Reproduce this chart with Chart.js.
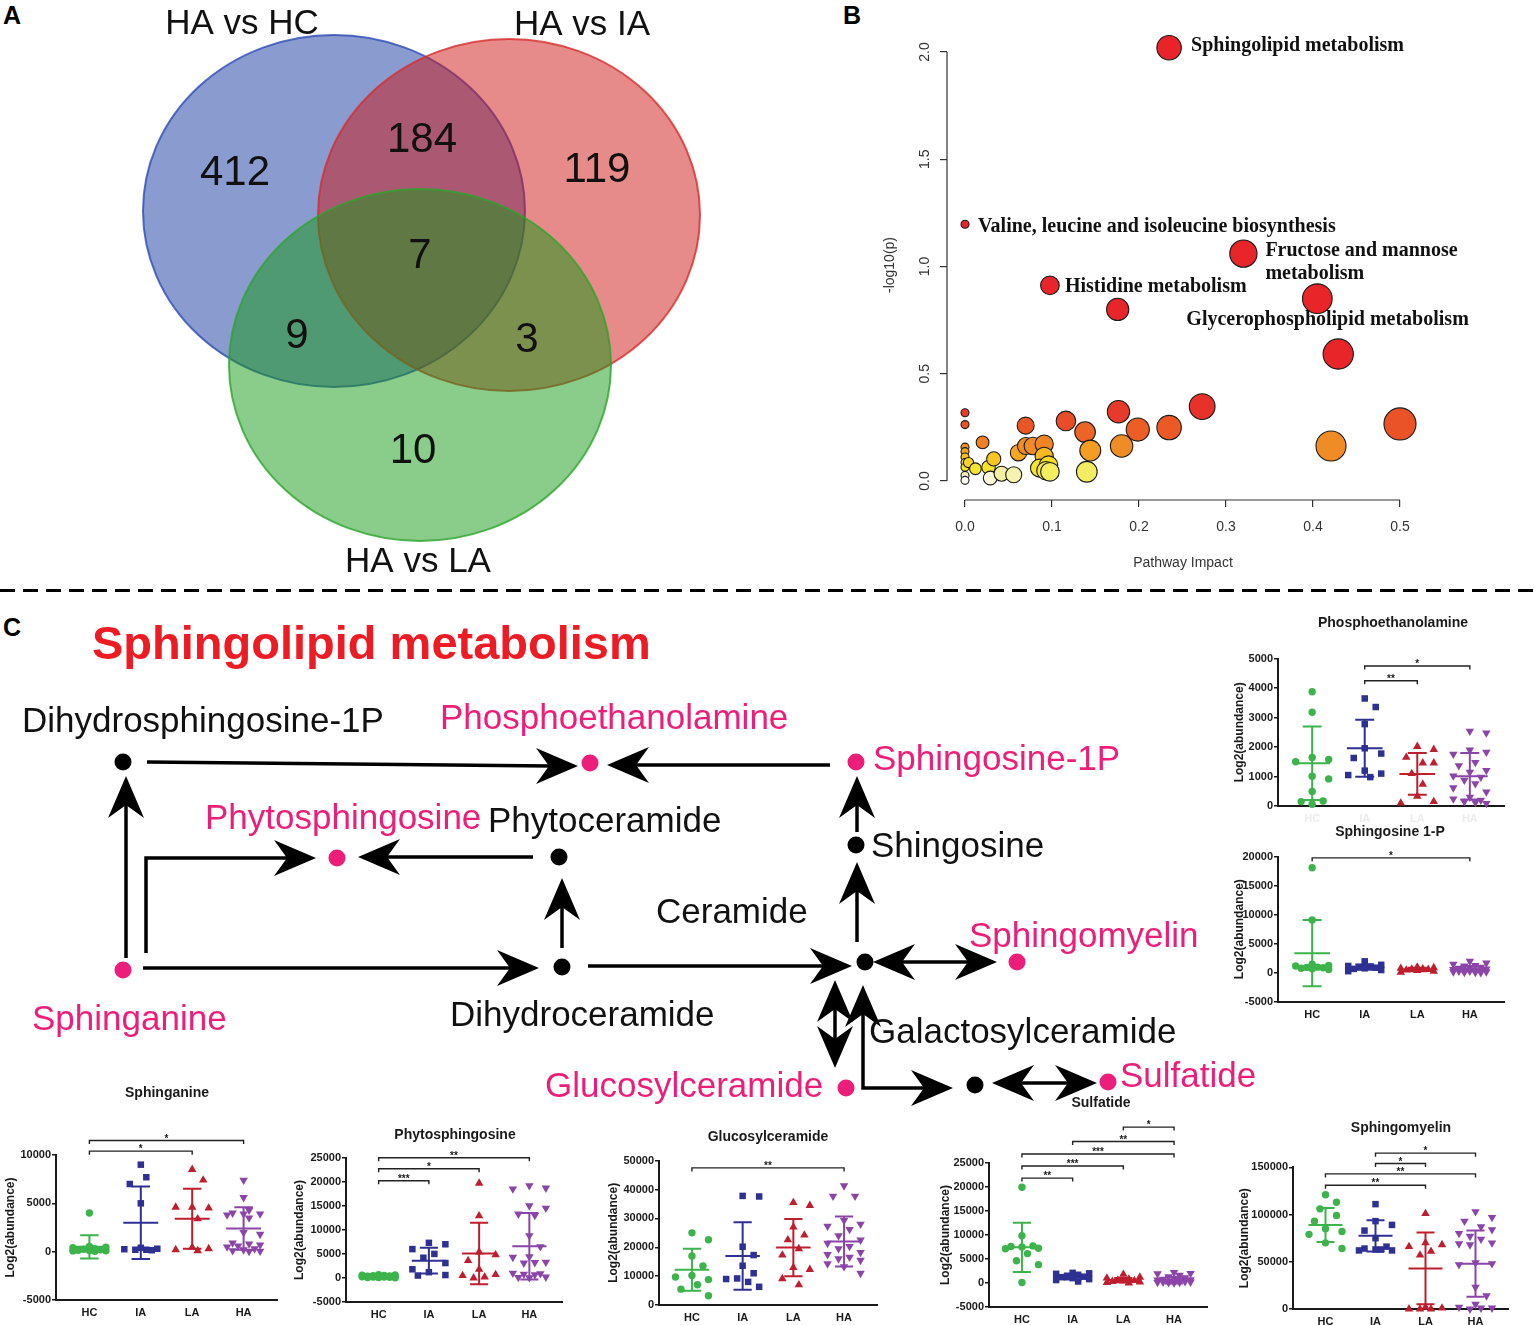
<!DOCTYPE html>
<html>
<head>
<meta charset="utf-8">
<title>Sphingolipid metabolism figure</title>
<script src="https://cdn.jsdelivr.net/npm/chart.js@4.4.1/dist/chart.umd.min.js"></script>
<style>
  html, body { margin:0; padding:0; background:#fff; }
  body { position:relative; width:1535px; height:1325px; overflow:hidden; font-family:"Liberation Sans", Arial, sans-serif; }
  canvas { position:absolute; }
  .panel { position:absolute; font:bold 25px "Liberation Sans", Arial, sans-serif; line-height:25px; color:#000; }
  #sep { position:absolute; left:0; top:589px; width:1535px; height:3px;
         background:repeating-linear-gradient(to right,#000 0 15px,transparent 15px 23px); }
</style>
</head>
<body>
<div class="panel" style="left:3px;top:3px">A</div>
<div class="panel" style="left:843px;top:3px">B</div>
<div class="panel" style="left:3px;top:615px">C</div>
<div id="sep"></div>
<script>
// ===================== DATA =====================
// Panel A - Venn diagram
const vennSetNames = ['HA vs HC', 'HA vs IA', 'HA vs LA'];
const vennRegionCounts = [412, 119, 10, 184, 9, 3, 7]; // HC only, IA only, LA only, HC&IA, HC&LA, IA&LA, all three

// Panel B - pathway analysis bubbles
const pathwayImpact = [0.2346, 0.0, 0.32, 0.0976, 0.1755, 0.405, 0.429, 0.2726, 0.5, 0.4207,
  0.2346, 0.1986, 0.1764, 0.18, 0.116, 0.138, 0.144, 0.14, 0.0697, 0.0202,
  0, 0, 0, 0, 0, 0, 0, 0, 0, 0.004,
  0.012, 0.027, 0.033, 0.029, 0.042, 0.056, 0.0615, 0.07, 0.078, 0.091,
  0.091, 0.0856, 0.096, 0.093, 0.0976];
const pathwayNegLogP = [2.02, 1.197, 1.06, 0.912, 0.80, 0.85, 0.592, 0.347, 0.266, 0.163,
  0.249, 0.24, 0.323, 0.163, 0.28, 0.228, 0.142, 0.043, 0.258, 0.18,
  0.318, 0.263, 0.158, 0.137, 0.112, 0.086, 0.064, 0.026, 0.003, 0.086,
  0.057, 0.064, 0.103, 0.014, 0.034, 0.029, 0.132, 0.163, 0.163, 0.172,
  0.115, 0.06, 0.074, 0.048, 0.043];
const labelledPathways = ['Sphingolipid metabolism', 'Valine, leucine and isoleucine biosynthesis',
  'Fructose and mannose\nmetabolism', 'Histidine metabolism', 'Glycerophospholipid metabolism'];
const labelledPathwayIndex = [0, 1, 2, 3, 5];
const impactTicks = [0, 0.1, 0.2, 0.3, 0.4, 0.5];
const negLogPTicks = [0, 0.5, 1.0, 1.5, 2.0];

// Panel C - pathway nodes
const pathwayNodes = ['Dihydrosphingosine-1P', 'Phosphoethanolamine', 'Sphingosine-1P', 'Shingosine',
  'Phytosphingosine', 'Phytoceramide', 'Sphinganine', 'Dihydroceramide', 'Ceramide', 'Sphingomyelin',
  'Galactosylceramide', 'Sulfatide', 'Glucosylceramide'];
const detectedNodes = ['Phosphoethanolamine', 'Sphingosine-1P', 'Phytosphingosine', 'Sphinganine',
  'Sphingomyelin', 'Sulfatide', 'Glucosylceramide'];

// Panel C - metabolite dot plots
const groups = ['HC', 'IA', 'LA', 'HA'];

const phosHC = [3880, 3180, 1650, 1580, 1500, 1010, 920, 490, 170, 150, 60];
const phosIA = [3650, 3360, 2780, 1960, 1780, 1630, 1200, 1100, 1050, 980];
const phosLA = [2020, 1920, 1650, 1460, 1460, 1100, 740, 330, 150, 100];
const phosHA = [2540, 2480, 1900, 1830, 1760, 1480, 1370, 1210, 1150, 1020, 980, 880, 760, 620, 480, 300, 240, 200, 150, 120, 90];
const phosMean = [1450, 1960, 1090, 1010];
const phosSD = [1250, 970, 710, 790];
const phosSig = [[2, 4, 4750, '*'], [2, 3, 4250, '**']];

const s1pHC = [18100, 9100, 1500, 1300, 1200, 1000, 950, 900, 800, 700, 600];
const s1pIA = [2000, 1400, 1200, 1100, 1000, 900, 800, 700, 500, 300];
const s1pLA = [1000, 900, 800, 700, 650, 600, 500, 400, 300, 100];
const s1pHA = [2000, 1700, 1500, 1300, 1200, 1000, 900, 800, 700, 600, 500, 500, 400, 300, 300, 200, 200, 100, 100, 50];
const s1pMean = [3400, 1000, 600, 750];
const s1pSD = [5700, 450, 300, 450];
const s1pSig = [[1, 4, 19800, '*']];

const sphinganineHC = [4000, 550, 450, 400, 300, 250, 200, 150, 120, 100, 80, 50];
const sphinganineIA = [9000, 7700, 7000, 5000, 400, 300, 250, 200, 200, 150];
const sphinganineLA = [8500, 7400, 4600, 4500, 4600, 3400, 450, 300, 200, 100];
const sphinganineHA = [7400, 5600, 4300, 4000, 3900, 3900, 3800, 3500, 2000, 1800, 900, 800, 700, 600, 500, 300, 200, 100, 50, 20];
const sphinganineMean = [500, 3000, 3400, 2400];
const sphinganineSD = [1200, 3750, 3100, 2200];
const sphinganineSig = [[1, 3, 10400, '*'], [1, 4, 11500, '*']];

const phytoHC = [700, 600, 550, 500, 450, 400, 350, 300, 300, 250, 200, 200, 150, 100, 100, 50];
const phytoIA = [7300, 7000, 6000, 5000, 4200, 3100, 1800, 1200, 600, 500];
const phytoLA = [19700, 12900, 5400, 4800, 3600, 1800, 700, 500, 200, 0];
const phytoHA = [19200, 18700, 18500, 15000, 14500, 13300, 13000, 8800, 6500, 4400, 4300, 3300, 3200, 3100, 1000, 900, 800, 700, 200, 100, 50];
const phytoMean = [300, 3600, 5100, 6600];
const phytoSD = [200, 2700, 6400, 6900];
const phytoSig = [[1, 2, 20200, '***'], [1, 3, 22700, '*'], [1, 4, 25000, '**']];

const glucoHC = [25000, 22600, 17000, 13500, 10200, 9700, 8800, 7000, 5500, 3200];
const glucoIA = [37800, 37600, 20200, 17300, 13600, 11000, 9200, 9000, 8000, 6300];
const glucoLA = [35500, 34500, 27000, 24200, 22600, 19500, 17300, 13000, 12300, 9100, 7000];
const glucoHA = [41300, 37700, 37700, 29300, 28000, 27300, 26200, 24000, 22500, 21400, 20300, 19500, 18200, 17500, 16600, 16000, 15500, 14300, 13300, 11000];
const glucoMean = [12200, 17000, 19900, 22000];
const glucoSD = [7300, 11700, 9900, 8700];
const glucoSig = [[1, 4, 47500, '**']];

const sulfHC = [19900, 9800, 7700, 7600, 7500, 7200, 7100, 6100, 4600, 3800, 100];
const sulfIA = [2100, 2000, 1900, 1700, 1500, 1300, 1200, 1000, 800, 600, 300];
const sulfLA = [1800, 1200, 1000, 800, 600, 500, 400, 300, 200, 100, 0];
const sulfHA = [2200, 2000, 1900, 1600, 1300, 1100, 900, 800, 700, 600, 500, 400, 300, 300, 200, 200, 100, 100, 50, 0];
const sulfMean = [7400, 1200, 600, 600];
const sulfSD = [5100, 500, 450, 700];
const sulfSig = [[1, 2, 21800, '**'], [1, 3, 24300, '***'], [1, 4, 26800, '***'], [2, 4, 29400, '**'], [3, 4, 32400, '*']];

const smHC = [121000, 113000, 106000, 99000, 93000, 85000, 82000, 79000, 70000, 64000];
const smIA = [111000, 93000, 89000, 83000, 75000, 66000, 64000, 63000, 62000, 62000, 63000];
const smLA = [101000, 70000, 68000, 66000, 61000, 57000, 2000, 1000, 0, 0, 0];
const smHA = [103000, 97000, 93000, 87000, 84000, 80000, 77000, 74000, 70000, 69000, 68000, 49000, 48000, 47000, 23000, 14000, 5000, 2000, 1000, 1000, 0];
const smMean = [89000, 77500, 43000, 48000];
const smSD = [18000, 16500, 38000, 35000];
const smSig = [[1, 3, 131000, '**'], [1, 4, 143000, '**'], [2, 3, 154000, '*'], [2, 4, 165000, '*']];

// ===================== LAYOUT & STYLE =====================
const SANS = '"Liberation Sans", Arial, Helvetica, sans-serif';
const SERIF = '"Liberation Serif", "Times New Roman", serif';
Chart.defaults.animation = false;
Chart.defaults.events = [];
Chart.defaults.font.family = SANS;
Chart.defaults.layout.autoPadding = false;
Chart.defaults.plugins.legend.display = false;
Chart.defaults.plugins.tooltip.enabled = false;

function mkCanvas(left, top, w, h) {
  const c = document.createElement('canvas');
  c.width = w; c.height = h;
  c.style.left = left + 'px'; c.style.top = top + 'px';
  c.style.width = w + 'px'; c.style.height = h + 'px';
  document.body.appendChild(c);
  return c;
}

// ---------- Panel A ----------
const vennLayout = {
  width: 730, height: 588,
  centers: [[334, 211], [509, 215], [420, 365]],
  rx: 191, ry: 176,
  fills: ['rgba(21,55,161,0.5)', 'rgba(205,21,21,0.5)', 'rgba(21,153,21,0.5)'],
  strokes: ['rgba(45,75,180,0.8)', 'rgba(215,45,45,0.8)', 'rgba(45,165,45,0.8)'],
  setLabelXY: [[242, 24], [582, 25], [418, 562]],
  regionXY: [[235, 173], [597, 170], [413, 451], [422, 140], [297, 336], [527, 340], [420, 256]]
};
function ellipseImage(rx, ry, fill, stroke) {
  const c = document.createElement('canvas');
  c.width = Math.ceil(2 * rx + 4); c.height = Math.ceil(2 * ry + 4);
  const g = c.getContext('2d');
  g.beginPath(); g.ellipse(c.width / 2, c.height / 2, rx, ry, 0, 0, Math.PI * 2);
  g.fillStyle = fill; g.fill();
  g.lineWidth = 2; g.strokeStyle = stroke; g.stroke();
  return c;
}
new Chart(mkCanvas(0, 0, vennLayout.width, vennLayout.height), {
  type: 'scatter',
  data: { datasets: [{
    data: vennLayout.centers.map(c => ({ x: c[0], y: c[1] })),
    pointStyle: vennLayout.fills.map((f, i) => ellipseImage(vennLayout.rx, vennLayout.ry, f, vennLayout.strokes[i])),
    pointRadius: 5, clip: false
  }]},
  options: {
    responsive: false, layout: { padding: 0 },
    scales: {
      x: { type: 'linear', display: false, min: 0, max: vennLayout.width },
      y: { type: 'linear', display: false, min: 0, max: vennLayout.height, reverse: true }
    }
  },
  plugins: [{ id: 'vennText', afterDatasetsDraw(chart) {
    const { ctx, scales: { x, y } } = chart;
    ctx.save();
    ctx.fillStyle = '#111'; ctx.textAlign = 'center'; ctx.textBaseline = 'middle';
    ctx.font = `35px ${SANS}`;
    vennSetNames.forEach((t, i) => ctx.fillText(t, x.getPixelForValue(vennLayout.setLabelXY[i][0]), y.getPixelForValue(vennLayout.setLabelXY[i][1])));
    ctx.font = `42px ${SANS}`;
    vennRegionCounts.forEach((n, i) => ctx.fillText(String(n), x.getPixelForValue(vennLayout.regionXY[i][0]), y.getPixelForValue(vennLayout.regionXY[i][1])));
    ctx.restore();
  }}]
});

// ---------- Panel B ----------
const heatStops = [[0, [255, 255, 255]], [0.015, [253, 248, 216]], [0.035, [243, 239, 158]], [0.05, [244, 234, 44]],
  [0.08, [248, 216, 42]], [0.11, [248, 192, 34]], [0.14, [245, 158, 34]], [0.165, [240, 138, 37]],
  [0.2, [238, 112, 38]], [0.25, [235, 90, 38]], [0.3, [232, 67, 42]], [0.35, [232, 48, 42]],
  [0.6, [232, 38, 42]], [3, [232, 34, 42]]];
function heat(v) {
  const s = heatStops;
  if (v <= s[0][0]) return `rgb(${s[0][1].join(',')})`;
  for (let i = 1; i < s.length; i++) {
    if (v <= s[i][0]) {
      const t = (v - s[i - 1][0]) / (s[i][0] - s[i - 1][0]);
      const a = s[i - 1][1], b = s[i][1];
      return `rgb(${a.map((c, j) => Math.round(c + (b[j] - c) * t)).join(',')})`;
    }
  }
  return `rgb(${s[s.length - 1][1].join(',')})`;
}
const bLayout = {
  left: 870, top: 0, width: 665, height: 588,
  xMin: -0.0207, xMax: 0.523, yMin: -0.0886, yMax: 2.1026,
  labelOffsets: [[22, -1.5], [13, 3], [22, -3], [15, 1], [-131, 21]],
  yTickX: 925, xTitle: [1183, 563], yTitle: [890, 265]
};
new Chart(mkCanvas(bLayout.left, bLayout.top, bLayout.width, bLayout.height), {
  type: 'scatter',
  data: { datasets: [
    { data: pathwayImpact.map((v, i) => ({ x: v, y: pathwayNegLogP[i] })),
      pointRadius: c => 4 + 17 * Math.sqrt(Math.max(0, c.raw ? c.raw.x : 0)),
      backgroundColor: c => heat(c.raw ? c.raw.y : 0),
      borderColor: '#1a1a1a', borderWidth: 1.1, clip: false },
    { data: [{ x: bLayout.xMin, y: negLogPTicks[0] }, { x: bLayout.xMin, y: negLogPTicks[negLogPTicks.length - 1] }],
      showLine: true, borderColor: '#333', borderWidth: 1.2, pointRadius: 0, clip: false },
    { data: [{ x: impactTicks[0], y: bLayout.yMin }, { x: impactTicks[impactTicks.length - 1], y: bLayout.yMin }],
      showLine: true, borderColor: '#333', borderWidth: 1.2, pointRadius: 0, clip: false }
  ]},
  options: {
    responsive: false,
    layout: { padding: { top: 30, right: 115, left: 0, bottom: 0 } },
    scales: {
      x: { type: 'linear', min: bLayout.xMin, max: bLayout.xMax,
        afterBuildTicks: s => { s.ticks = impactTicks.map(v => ({ value: v })); },
        afterFit: s => { s.height = 88; },
        border: { display: false },
        grid: { drawOnChartArea: false, drawTicks: true, tickLength: 7, color: '#333', lineWidth: 1.2 },
        ticks: { padding: 12, color: '#333', font: { size: 14 }, callback: v => Number(v).toFixed(1), maxRotation: 0, autoSkip: false } },
      y: { type: 'linear', min: bLayout.yMin, max: bLayout.yMax,
        afterBuildTicks: s => { s.ticks = negLogPTicks.map(v => ({ value: v })); },
        afterFit: s => { s.width = 77; },
        border: { display: false },
        grid: { drawOnChartArea: false, drawTicks: true, tickLength: 7, color: '#333', lineWidth: 1.2 },
        ticks: { display: false } }
    }
  },
  plugins: [{ id: 'bubbleText', afterDraw(chart) {
    const { ctx, scales: { x, y } } = chart;
    const L = bLayout.left;
    ctx.save();
    ctx.fillStyle = '#333'; ctx.font = `14px ${SANS}`; ctx.textAlign = 'center'; ctx.textBaseline = 'middle';
    negLogPTicks.forEach(v => {
      ctx.save(); ctx.translate(bLayout.yTickX - L, y.getPixelForValue(v)); ctx.rotate(-Math.PI / 2);
      ctx.fillText(v.toFixed(1), 0, 0); ctx.restore();
    });
    ctx.fillText('Pathway Impact', bLayout.xTitle[0] - L, bLayout.xTitle[1]);
    ctx.save(); ctx.translate(bLayout.yTitle[0] - L, bLayout.yTitle[1]); ctx.rotate(-Math.PI / 2);
    ctx.fillText('-log10(p)', 0, 0); ctx.restore();
    ctx.fillStyle = '#111'; ctx.font = `bold 20px ${SERIF}`; ctx.textAlign = 'left';
    labelledPathways.forEach((name, k) => {
      const idx = labelledPathwayIndex[k];
      const px = x.getPixelForValue(pathwayImpact[idx]) + bLayout.labelOffsets[k][0];
      const py = y.getPixelForValue(pathwayNegLogP[idx]) + bLayout.labelOffsets[k][1];
      name.split('\n').forEach((line, j) => ctx.fillText(line, px, py + j * 23));
    });
    ctx.restore();
  }}]
});

// ---------- Panel C: pathway diagram ----------
const diag = { left: 0, top: 596, width: 1265, height: 520 };
const nodeXY = {
  'Dihydrosphingosine-1P': [123, 762], 'Phosphoethanolamine': [590, 763], 'Sphingosine-1P': [856, 762],
  'Shingosine': [856, 845], 'Phytosphingosine': [337, 858], 'Phytoceramide': [559, 857],
  'Sphinganine': [123, 970], 'Dihydroceramide': [562, 967], 'Ceramide': [865, 962],
  'Sphingomyelin': [1017, 962], 'Galactosylceramide': [975, 1085], 'Sulfatide': [1108, 1082],
  'Glucosylceramide': [846, 1088]
};
const labelXY = {
  'Dihydrosphingosine-1P': [22, 722], 'Phosphoethanolamine': [440, 719], 'Sphingosine-1P': [873, 760],
  'Shingosine': [871, 847], 'Phytosphingosine': [205, 819], 'Phytoceramide': [488, 822],
  'Sphinganine': [32, 1020], 'Dihydroceramide': [450, 1016], 'Ceramide': [656, 913],
  'Sphingomyelin': [969, 937], 'Galactosylceramide': [869, 1033], 'Sulfatide': [1120, 1077],
  'Glucosylceramide': [545, 1087]
};
const routes = [
  [[126, 958], [126, 800]],
  [[146, 953], [146, 858], [290, 858]],
  [[147, 762], [550, 766]],
  [[830, 765], [630, 765]],
  [[533, 857], [385, 857]],
  [[143, 968], [515, 968]],
  [[562, 948], [562, 900]],
  [[588, 966], [830, 966]],
  [[857, 942], [857, 885]],
  [[857, 832], [857, 797]],
  [[895, 962], [980, 962]],
  [[835, 1000], [835, 1050]],
  [[863, 1005], [863, 1088], [935, 1088]],
  [[1012, 1083], [1080, 1083]]
];
const heads = [ // tip x, tip y, direction (deg, screen)
  [126, 776, 270], [316, 858, 0], [578, 766, 0], [607, 765, 180], [358, 857, 180], [539, 968, 0],
  [562, 878, 270], [852, 966, 0], [857, 862, 270], [857, 776, 270], [873, 962, 180], [997, 962, 0],
  [835, 980, 270], [835, 1068, 90], [863, 985, 270], [953, 1088, 0], [992, 1083, 180], [1097, 1083, 0]
];
const ARROW_L = 42, ARROW_H = 36, ARROW_NOTCH = 13;
function arrowImage() {
  const c = document.createElement('canvas');
  c.width = ARROW_L; c.height = ARROW_H;
  const g = c.getContext('2d');
  g.fillStyle = '#000';
  g.beginPath(); g.moveTo(ARROW_L, ARROW_H / 2); g.lineTo(0, 0); g.lineTo(ARROW_NOTCH, ARROW_H / 2); g.lineTo(0, ARROW_H); g.closePath(); g.fill();
  return c;
}
const arrowImg = arrowImage();
const PINK = '#EC1E79';
const diagDatasets = [
  { data: heads.map(h => ({ x: h[0] - Math.cos(h[2] * Math.PI / 180) * ARROW_L / 2, y: h[1] - Math.sin(h[2] * Math.PI / 180) * ARROW_L / 2 })),
    pointStyle: arrowImg, rotation: heads.map(h => h[2]), pointRadius: 5, clip: false },
  { data: pathwayNodes.map(n => ({ x: nodeXY[n][0], y: nodeXY[n][1] })),
    pointRadius: 8.5, pointStyle: 'circle',
    backgroundColor: pathwayNodes.map(n => detectedNodes.includes(n) ? PINK : '#000'), borderWidth: 0, clip: false }
];
routes.forEach(r => diagDatasets.push({
  data: r.map(p => ({ x: p[0], y: p[1] })), showLine: true, borderColor: '#000', borderWidth: 3.5,
  pointRadius: 0, borderJoinStyle: 'miter', borderCapStyle: 'butt', clip: false
}));
new Chart(mkCanvas(diag.left, diag.top, diag.width, diag.height), {
  type: 'scatter',
  data: { datasets: diagDatasets },
  options: {
    responsive: false, layout: { padding: 0, autoPadding: false },
    scales: {
      x: { type: 'linear', display: false, min: diag.left, max: diag.left + diag.width },
      y: { type: 'linear', display: false, min: diag.top, max: diag.top + diag.height, reverse: true }
    }
  },
  plugins: [{ id: 'diagText', afterDatasetsDraw(chart) {
    const { ctx, scales: { x, y } } = chart;
    ctx.save();
    ctx.textAlign = 'left'; ctx.textBaseline = 'middle';
    ctx.font = `bold 47px ${SANS}`; ctx.fillStyle = '#ED1C24';
    ctx.fillText('Sphingolipid metabolism', x.getPixelForValue(92), y.getPixelForValue(646));
    ctx.font = `35px ${SANS}`;
    pathwayNodes.forEach(n => {
      ctx.fillStyle = detectedNodes.includes(n) ? PINK : '#111';
      ctx.fillText(n, x.getPixelForValue(labelXY[n][0]), y.getPixelForValue(labelXY[n][1]));
    });
    ctx.restore();
  }}]
});

// ---------- Panel C: dot plots ----------
const groupColor = ['#3CB44B', '#2E3192', '#BE1E2D', '#8B45A8'];
const groupShape = ['circle', 'rect', 'triangle', 'triangle'];
const groupRot = [0, 0, 0, 180];
const groupRad = [3.7, 4.6, 4.9, 4.9];

function swarmOffsets(values, pxPerY, dia, maxK, step) {
  const placed = [];
  return values.map(v => {
    const py = v * pxPerY;
    let best = 0, bestD = -1;
    for (let k = 0; k <= 2 * maxK; k++) {
      const off = (k % 2 ? 1 : -1) * Math.ceil(k / 2) * step;
      let minD = Infinity;
      for (const p of placed) minD = Math.min(minD, Math.hypot(p.x - off, p.y - py));
      if (minD >= dia) { best = off; bestD = minD; break; }
      if (minD > bestD) { bestD = minD; best = off; }
    }
    placed.push({ x: best, y: py });
    return best;
  });
}

function dotPlot(g, title, series, mean, sd, sig, yMin, yMax, yStep) {
  const AXW = 75, AXH = 26, PADR = 8;
  const left = Math.round(g.x0 - AXW), top = Math.round(g.titleY - 14);
  const W = Math.round(g.x1 + PADR - left), H = Math.round(g.yBot + AXH - top);
  const xMin = 0.35, xMax = 4.65;
  const pxX = (g.x1 - g.x0) / (xMax - xMin);
  const pxY = (g.yBot - g.yTop) / (yMax - yMin);
  const ds = [];
  const tk = 3.5 / pxY;
  sig.forEach(([a, b, yv]) => ds.push({
    data: [{ x: a, y: yv - tk }, { x: a, y: yv }, { x: b, y: yv }, { x: b, y: yv - tk }],
    showLine: true, borderColor: '#222', borderWidth: 1.4, pointRadius: 0, clip: false }));
  series.forEach((vals, k) => {
    const c = k + 1, m = mean[k], s = sd[k], G = NaN;
    ds.push({ data: [{ x: c - 0.34, y: m }, { x: c + 0.34, y: m }, { x: G, y: G },
      { x: c, y: m - s }, { x: c, y: m + s }, { x: G, y: G },
      { x: c - 0.18, y: m + s }, { x: c + 0.18, y: m + s }, { x: G, y: G },
      { x: c - 0.18, y: m - s }, { x: c + 0.18, y: m - s }],
      showLine: true, spanGaps: false, borderColor: groupColor[k], borderWidth: 2, pointRadius: 0, clip: false });
  });
  series.forEach((vals, k) => {
    const offs = swarmOffsets(vals, pxY, 13, 3, 5.5);
    ds.push({ data: vals.map((v, i) => ({ x: k + 1 + offs[i] / pxX, y: v })),
      pointStyle: groupShape[k], rotation: groupRot[k], pointRadius: groupRad[k],
      backgroundColor: groupColor[k], borderColor: groupColor[k], borderWidth: 0, clip: false });
  });
  new Chart(mkCanvas(left, top, W, H), {
    type: 'scatter',
    data: { datasets: ds },
    options: {
      responsive: false,
      layout: { padding: { top: g.yTop - top, right: PADR, left: 0, bottom: 0 }, autoPadding: false },
      scales: {
        x: { type: 'linear', min: xMin, max: xMax,
          afterBuildTicks: s => { s.ticks = groups.map((_, i) => ({ value: i + 1 })); },
          afterFit: s => { s.height = AXH; },
          grid: { display: false },
          border: { display: true, color: '#1a1a1a', width: 2 },
          ticks: { padding: -2, color: g.xLabelColor || '#1a1a1a', font: { size: 11, weight: 'bold' },
            callback: v => groups[Math.round(v) - 1], maxRotation: 0, autoSkip: false } },
        y: { type: 'linear', min: yMin, max: yMax,
          afterFit: s => { s.width = AXW; },
          grid: { drawOnChartArea: false, drawTicks: true, tickLength: 4, color: '#1a1a1a', lineWidth: 1.5 },
          border: { display: true, color: '#1a1a1a', width: 2 },
          ticks: { stepSize: yStep, color: '#1a1a1a', font: { size: 11, weight: 'bold' }, padding: 1,
            autoSkip: false, callback: v => String(v) } }
      }
    },
    plugins: [{ id: 'dotDeco', afterDraw(chart) {
      const { ctx, scales: { x, y } } = chart;
      ctx.save();
      ctx.fillStyle = '#1a1a1a'; ctx.textAlign = 'center'; ctx.textBaseline = 'middle';
      ctx.font = `bold 14px ${SANS}`;
      ctx.fillText(title, g.titleX - left, g.titleY - top);
      ctx.save(); ctx.translate(g.yTitleX - left, (g.yTop + g.yBot) / 2 - top); ctx.rotate(-Math.PI / 2);
      ctx.font = `bold 12px ${SANS}`; ctx.fillText('Log2(abundance)', 0, 0); ctx.restore();
      ctx.font = `bold 10px ${SANS}`; ctx.textBaseline = 'alphabetic';
      sig.forEach(([a, b, yv, t]) => ctx.fillText(t, x.getPixelForValue((a + b) / 2), y.getPixelForValue(yv) + 1));
      ctx.restore();
    }}]
  });
}

const plotGeom = {
  phos: { x0: 1278, x1: 1504, yTop: 658.7, yBot: 806, titleX: 1393, titleY: 623, yTitleX: 1240, xLabelColor: '#ececec' },
  s1p: { x0: 1278, x1: 1504, yTop: 856.7, yBot: 1001.7, titleX: 1390, titleY: 832, yTitleX: 1240 },
  sphinganine: { x0: 56, x1: 277, yTop: 1155, yBot: 1300, titleX: 167, titleY: 1093, yTitleX: 11 },
  phyto: { x0: 346, x1: 562, yTop: 1157.7, yBot: 1302.3, titleX: 455, titleY: 1135, yTitleX: 300 },
  gluco: { x0: 659, x1: 877, yTop: 1160.7, yBot: 1305, titleX: 768, titleY: 1137, yTitleX: 614 },
  sulf: { x0: 989, x1: 1207, yTop: 1162.7, yBot: 1307.3, titleX: 1101, titleY: 1103, yTitleX: 946 },
  sm: { x0: 1293, x1: 1508, yTop: 1167.3, yBot: 1309, titleX: 1401, titleY: 1128, yTitleX: 1245 }
};

dotPlot(plotGeom.phos, 'Phosphoethanolamine', [phosHC, phosIA, phosLA, phosHA], phosMean, phosSD, phosSig, 0, 5000, 1000);
dotPlot(plotGeom.s1p, 'Sphingosine 1-P', [s1pHC, s1pIA, s1pLA, s1pHA], s1pMean, s1pSD, s1pSig, -5000, 20000, 5000);
dotPlot(plotGeom.sphinganine, 'Sphinganine', [sphinganineHC, sphinganineIA, sphinganineLA, sphinganineHA], sphinganineMean, sphinganineSD, sphinganineSig, -5000, 10000, 5000);
dotPlot(plotGeom.phyto, 'Phytosphingosine', [phytoHC, phytoIA, phytoLA, phytoHA], phytoMean, phytoSD, phytoSig, -5000, 25000, 5000);
dotPlot(plotGeom.gluco, 'Glucosylceramide', [glucoHC, glucoIA, glucoLA, glucoHA], glucoMean, glucoSD, glucoSig, 0, 50000, 10000);
dotPlot(plotGeom.sulf, 'Sulfatide', [sulfHC, sulfIA, sulfLA, sulfHA], sulfMean, sulfSD, sulfSig, -5000, 25000, 5000);
dotPlot(plotGeom.sm, 'Sphingomyelin', [smHC, smIA, smLA, smHA], smMean, smSD, smSig, 0, 150000, 50000);
</script>
</body>
</html>
